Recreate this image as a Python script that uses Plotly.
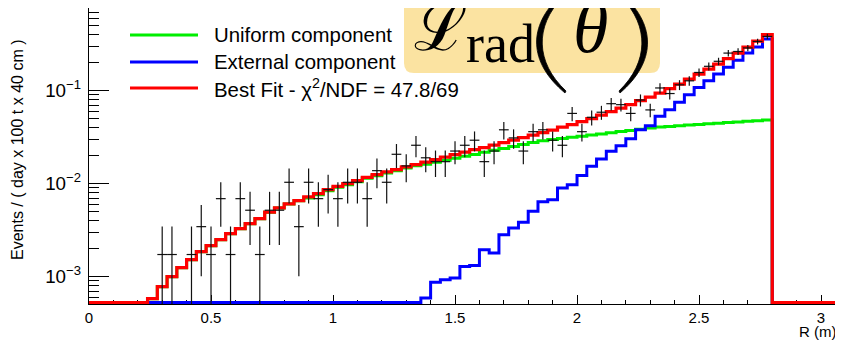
import plotly.graph_objects as go

# ---------------- data ----------------
BIN_WIDTH = 0.04          # m, histogram bin width (70 bins, 0 - 2.8 m)
N_BINS = 70

# Best fit (red) histogram, per bin (bins 0..69)
best_fit = [0, 0, 0, 0, 0, 0,
            5.80e-4, 7.81e-4, 1.000e-3, 1.250e-3, 1.523e-3, 1.857e-3, 2.154e-3, 2.498e-3,
            2.901e-3, 3.281e-3, 3.714e-3, 4.204e-3, 4.937e-3, 5.479e-3, 6.048e-3, 6.566e-3,
            7.194e-3, 7.808e-3, 8.618e-3, 9.354e-3, 1.000e-2, 1.077e-2, 1.168e-2, 1.250e-2,
            1.336e-2, 1.414e-2, 1.512e-2, 1.601e-2, 1.702e-2, 1.811e-2, 1.927e-2, 2.050e-2,
            2.181e-2, 2.320e-2, 2.438e-2, 2.594e-2, 2.760e-2, 2.935e-2, 3.123e-2, 3.322e-2,
            3.535e-2, 3.761e-2, 4.050e-2, 4.309e-2, 4.642e-2, 4.999e-2, 5.452e-2, 5.942e-2,
            6.482e-2, 7.071e-2, 7.805e-2, 8.514e-2, 9.400e-2, 0.1051, 0.1175, 0.1330,
            0.1505, 0.1703, 0.1927, 0.2208, 0.2530, 0.2935, 0.3405, 0.4000]

# Uniform component (green)
uniform = [0, 0, 0, 0, 0, 0,
           5.80e-4, 7.81e-4, 1.000e-3, 1.250e-3, 1.523e-3, 1.857e-3, 2.154e-3, 2.498e-3,
           2.901e-3, 3.281e-3, 3.714e-3, 4.204e-3, 4.937e-3, 5.479e-3, 6.048e-3, 6.566e-3,
           7.02e-3, 7.62e-3, 8.41e-3, 9.13e-3, 9.76e-3, 1.051e-2, 1.140e-2, 1.220e-2,
           1.303e-2, 1.380e-2, 1.475e-2, 1.562e-2, 0.01622, 0.01703, 0.01786, 0.01876,
           0.01972, 0.02065, 0.02171, 0.02282, 0.02389, 0.02512, 0.02630, 0.02765,
           0.02891, 0.02979, 0.03062, 0.03155, 0.03243, 0.03341, 0.03428, 0.03532,
           0.03631, 0.03741, 0.03846, 0.03963, 0.04074, 0.04130, 0.04207, 0.04266,
           0.04335, 0.04395, 0.04477, 0.04539, 0.04603, 0.04688, 0.04753, 0.04831]

# External component (blue)
external = [0] * 34 + [
    0.00059, 0.000869, 0.000929, 0.000969, 0.00129, 0.00132, 0.00195, 0.00180,
    0.00283, 0.00334, 0.00384, 0.00504, 0.00640, 0.00673, 0.00899, 0.00976,
    0.01227, 0.01535, 0.01845, 0.02225, 0.02564, 0.03048, 0.03811, 0.04207,
    0.05297, 0.06252, 0.07486, 0.09057, 0.1085, 0.1282, 0.1513, 0.1782,
    0.2119, 0.2543, 0.2950, 0.3600]

# Data points and their (symmetric) errors
data_vals = [0, 0, 0, 0, 0, 0, 0,
             0.00173, 0.00173, 0, 0.00173, 0.00345, 0.00173, 0.00690, 0.00173,
             0.00690, 0.00518, 0.00173, 0.00518, 0.00518, 0.01035, 0.00345, 0.01035,
             0.00690, 0.00863, 0.00690, 0.01035, 0.01035, 0.00690, 0.0138, 0.01035,
             0.0207, 0.01553, 0.02588, 0.01898, 0.01725, 0.01725, 0.02243, 0.02588,
             0.02933, 0.01725, 0.02243, 0.03795, 0.03105, 0.02243, 0.03623, 0.03795,
             0.02933, 0.02588, 0.05693, 0.03623, 0.05175, 0.05865, 0.07245, 0.07073,
             0.05693, 0.07935, 0.0621, 0.10695, 0.09315, 0.11558, 0.12765, 0.15698,
             0.18285, 0.207, 0.25358, 0.26393, 0.28808, 0.3381, 0.38295]
data_errs = [0, 0, 0, 0, 0, 0, 0,
             0.00173, 0.00173, 0, 0.00173, 0.00244, 0.00173, 0.00345, 0.00173,
             0.00345, 0.00299, 0.00173, 0.00299, 0.00299, 0.00423, 0.00244, 0.00423,
             0.00345, 0.00386, 0.00345, 0.00423, 0.00423, 0.00345, 0.00488, 0.00423,
             0.00598, 0.00518, 0.00668, 0.00572, 0.00546, 0.00546, 0.00622, 0.00668,
             0.00711, 0.00546, 0.00622, 0.00809, 0.00732, 0.00622, 0.00790, 0.00809,
             0.00711, 0.00668, 0.00991, 0.00790, 0.00945, 0.01006, 0.01118, 0.01105,
             0.00991, 0.0117, 0.01035, 0.01358, 0.01268, 0.01412, 0.01484, 0.01646,
             0.01776, 0.0189, 0.02091, 0.02134, 0.02229, 0.02415, 0.0257]

x_tick_vals = [0, 0.5, 1, 1.5, 2, 2.5, 3]
x_tick_text = ["0", "0.5", "1", "1.5", "2", "2.5", "3"]

legend_labels = ["Uniform component", "External component",
                 "Best Fit - \u03c7<sup>2</sup>/NDF = 47.8/69"]
y_title = "Events / ( day x 100 t x 40 cm )"
x_title = "R (m)"

# ---------------- geometry / style ----------------
# the page body has an 8 px margin, so the figure starts at (8, 8) in the window
OFF = 8
W, H = 843 - OFF, 343 - OFF
PLOT_L, PLOT_T, PLOT_B = 89, 8, 304          # window pixels of the plot frame
ML, MT = PLOT_L - OFF, PLOT_T - OFF
MR = 0
MB = H - (PLOT_B - OFF)
PW, PH = W - ML - MR, H - MT - MB
X_MAX = 3.09
Y_LOG_MIN, Y_LOG_MAX = -3.294, -0.111
FLOOR = 10 ** (Y_LOG_MIN + 0.016)

FONT = "Liberation Sans, Arial, sans-serif"
SERIF = "Liberation Serif, Times New Roman, serif"


def px(x):
    """window pixel x -> paper coordinate"""
    return (x - PLOT_L) / PW


def py(y):
    """window pixel y -> paper coordinate"""
    return (PLOT_B - y) / PH


def P(x, y):
    return f"{px(x):.5f},{py(y):.5f}"


def step_xy(vals):
    xs, ys = [], []
    for i, v in enumerate(vals):
        xs.append(i * BIN_WIDTH)
        ys.append(v if v > 0 else FLOOR)
    xs.append(len(vals) * BIN_WIDTH)
    ys.append(FLOOR)
    xs.append(X_MAX)
    ys.append(FLOOR)
    return xs, ys


fig = go.Figure()

for vals, color, wdt, name in [(uniform, "#00ee00", 3, "Uniform component"),
                               (external, "#0000ff", 3, "External component"),
                               (best_fit, "#ff0000", 3.2, "Best Fit")]:
    xs, ys = step_xy(vals)
    fig.add_trace(go.Scatter(x=xs, y=ys, mode="lines", line_shape="hv",
                             line=dict(color=color, width=wdt), name=name,
                             showlegend=False, hoverinfo="skip"))

dx, dy, de, dem = [], [], [], []
for i, (v, e) in enumerate(zip(data_vals, data_errs)):
    if v > 0:
        dx.append((i + 0.5) * BIN_WIDTH)
        dy.append(v)
        de.append(e)
        dem.append(min(e, v - 1e-7))

fig.add_trace(go.Scatter(
    x=dx, y=dy, mode="markers", marker=dict(size=1, color="black"),
    error_y=dict(type="data", array=de, arrayminus=dem, symmetric=False,
                 color="#111111", thickness=1.2, width=0),
    error_x=dict(type="constant", value=BIN_WIDTH / 2, color="#111111",
                 thickness=1.2, width=0),
    showlegend=False, name="Data"))

axis_common = dict(showline=True, linecolor="black", linewidth=1, showgrid=False,
                   zeroline=False, ticks="inside", tickcolor="black", tickwidth=1,
                   tickfont=dict(family=FONT, size=15, color="black"))

fig.update_layout(
    width=W, height=H,
    margin=dict(l=ML, r=MR, t=MT, b=MB, pad=0, autoexpand=False),
    paper_bgcolor="white", plot_bgcolor="white",
    xaxis=dict(range=[0, X_MAX], tickmode="array", tickvals=x_tick_vals,
               ticktext=x_tick_text, ticklen=9, mirror=True, layer="below traces",
               automargin=False,
               minor=dict(ticks="inside", ticklen=4.5, dtick=0.1, tick0=0,
                          tickcolor="black", showgrid=False),
               **axis_common),
    yaxis=dict(type="log", range=[Y_LOG_MIN, Y_LOG_MAX], dtick=1,
               exponentformat="power", ticklen=20, layer="below traces",
               automargin=False, ticklabelstandoff=4,
               minor=dict(ticks="inside", ticklen=10, dtick="D1",
                          tickcolor="black", showgrid=False),
               **axis_common),
    showlegend=False,
)

shapes = []
annotations = []

# legend (manual, ROOT style)
legend_colors = ["#00ee00", "#0000ff", "#ff0000"]
legend_y = [35, 62, 88]
for lab, col, ly in zip(legend_labels, legend_colors, legend_y):
    shapes.append(dict(type="line", xref="paper", yref="paper",
                       x0=px(130), x1=px(198), y0=py(ly), y1=py(ly),
                       line=dict(color=col, width=3), layer="above"))
    annotations.append(dict(xref="paper", yref="paper", x=px(212), y=py(ly),
                            xanchor="left", yanchor="middle", showarrow=False,
                            text=lab, font=dict(family=FONT, size=20.4, color="black")))

# axis titles
annotations.append(dict(xref="paper", yref="paper", x=px(17), y=py(150),
                        xanchor="center", yanchor="middle", showarrow=False,
                        textangle=-90, text=y_title,
                        font=dict(family=FONT, size=16, color="black")))
annotations.append(dict(xref="paper", yref="paper", x=px(839), y=py(331),
                        xanchor="right", yanchor="middle", showarrow=False,
                        text=x_title, font=dict(family=FONT, size=15, color="black")))

# formula badge  L_rad(theta)
bx0, bx1, by_top, by_bot, rr = 404, 660, -20, 73, 10
path = (f"M {P(bx0, by_top)} L {P(bx0, by_bot - rr)} "
        f"Q {P(bx0, by_bot)} {P(bx0 + rr, by_bot)} "
        f"L {P(bx1 - rr, by_bot)} Q {P(bx1, by_bot)} {P(bx1, by_bot - rr)} "
        f"L {P(bx1, by_top)} Z")
shapes.append(dict(type="path", xref="paper", yref="paper", path=path,
                   fillcolor="#fbe3a1", line=dict(width=0), layer="above"))

# big delimiters as thin crescents
lp = (f"M {P(560, -4)} C {P(528, 26)} {P(528, 62)} {P(565, 93)} "
      f"L {P(566, 91)} C {P(535, 62)} {P(535, 26)} {P(562, -2)} Z")
rp = (f"M {P(624, -4)} C {P(656, 26)} {P(656, 62)} {P(620, 93)} "
      f"L {P(619, 91)} C {P(649, 62)} {P(649, 26)} {P(622, -2)} Z")
for pth in (lp, rp):
    shapes.append(dict(type="path", xref="paper", yref="paper", path=pth,
                       fillcolor="black", line=dict(color="black", width=0.8),
                       layer="above"))

annotations += [
    dict(xref="paper", yref="paper", x=px(440), y=py(28), xanchor="center",
         yanchor="middle", showarrow=False, text="\u2112",
         font=dict(family="DejaVu Serif, serif", size=64, color="black")),
    dict(xref="paper", yref="paper", x=px(500), y=py(44), xanchor="center",
         yanchor="middle", showarrow=False, text="rad",
         font=dict(family=SERIF, size=54, color="black")),
    dict(xref="paper", yref="paper", x=px(590), y=py(28), xanchor="center",
         yanchor="middle", showarrow=False, text="<i>\u03b8</i>",
         font=dict(family=SERIF, size=72, color="black")),
]

fig.update_layout(shapes=shapes, annotations=annotations)
fig.write_html("out.html")
